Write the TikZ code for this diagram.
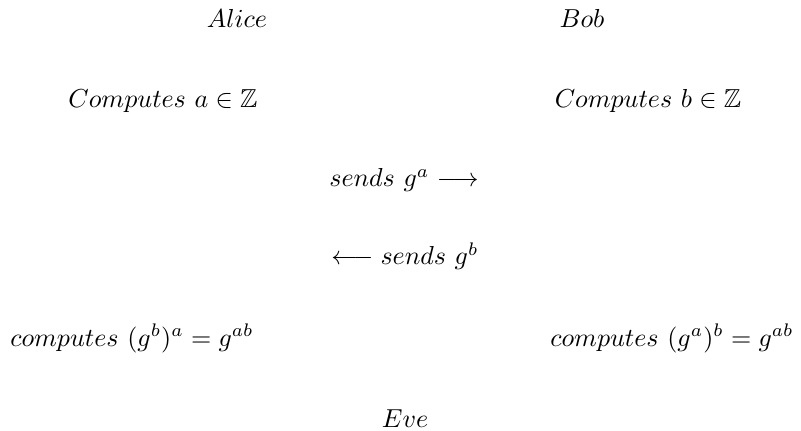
\documentclass[tikz,border=0pt]{standalone}
\usepackage{amssymb}
\begin{document}
\begin{tikzpicture}[x=0.3846pt,y=-0.3846pt,
  lbl/.style={anchor=base,inner sep=0pt,outer sep=0pt}]
\useasboundingbox (0,0) rectangle (801,431);
\node[lbl] (alice) at (237,28) {$Alice$};
\node[lbl] (bob) at (582,28) {$Bob$};
\node[lbl] (compa) at (163,108) {$Computes\ a \in \mathbb{Z}$};
\node[lbl] (compb) at (648,108) {$Computes\ b \in \mathbb{Z}$};
\node[lbl] (sendga) at (404,187) {$sends\ g^a \longrightarrow$};
\node[lbl] (sendgb) at (405,265) {$\longleftarrow sends\ g^b$};
\node[lbl] (keya) at (132,346) {$computes\ (g^b)^a = g^{ab}$};
\node[lbl] (keyb) at (672,346) {$computes\ (g^a)^b = g^{ab}$};
\node[lbl] (eve) at (405,427) {$Eve$};
\end{tikzpicture}
\end{document}
